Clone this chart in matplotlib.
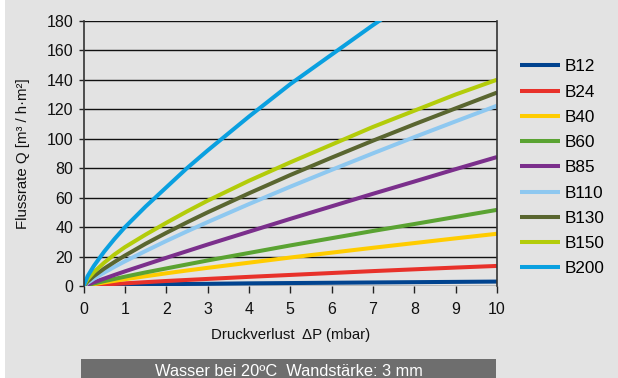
import matplotlib
matplotlib.use("Agg")
import matplotlib.pyplot as plt
from matplotlib.patches import Rectangle

plt.rcParams['font.family'] = ['Liberation Sans', 'DejaVu Sans']

# Druckverlust in mbar
dp = [0, 0.1, 0.25, 0.5, 0.75, 1, 1.5, 2, 2.5, 3, 4, 5, 6, 7, 8, 9, 10]

# Flussrate in m3/(h*m2) je Filtertyp
q_b12 = [0, 0.3, 0.5, 0.7, 0.9, 1.0, 1.2, 1.4, 1.6, 1.7, 2.0, 2.2, 2.4, 2.6, 2.8, 3.0, 3.2]
q_b24 = [0, 0.3, 0.6, 1.1, 1.6, 2.0, 2.8, 3.6, 4.3, 5.0, 6.4, 7.7, 9.0, 10.3, 11.5, 12.7, 13.8]
q_b40 = [0, 0.6, 1.4, 2.6, 3.7, 4.8, 6.8, 8.8, 10.7, 12.5, 16.0, 19.5, 22.8, 26.1, 29.3, 32.5, 35.6]
q_b60 = [0, 0.8, 1.9, 3.5, 5.0, 6.5, 9.4, 12.1, 14.8, 17.5, 22.6, 27.7, 32.6, 37.5, 42.2, 47.0, 51.8]
q_b85 = [0, 1.2, 2.7, 5.2, 7.7, 10.1, 14.7, 19.3, 23.8, 28.3, 37.0, 45.7, 54.2, 62.7, 71.0, 79.4, 87.6]
q_b110 = [0, 2.3, 5.1, 9.3, 13.2, 16.9, 23.9, 30.7, 37.2, 43.5, 55.7, 67.5, 78.9, 90.1, 101.1, 111.8, 122.4]
q_b130 = [0, 3.3, 6.9, 12.0, 16.5, 20.8, 28.8, 36.2, 43.3, 50.1, 63.0, 75.4, 87.2, 98.7, 109.8, 120.6, 131.3]
q_b150 = [0, 4.8, 9.6, 16.0, 21.6, 26.5, 35.0, 43.0, 50.7, 58.0, 71.5, 84.0, 96.0, 108.0, 119.0, 130.0, 140.0]
q_b200 = [0, 6.9, 13.8, 23.5, 32.1, 40.0, 54.0, 67.0, 80.0, 92.0, 115.0, 137.0, 157.0, 177.0, 196.0, 214.0, 232.0]

names = ['B12', 'B24', 'B40', 'B60', 'B85', 'B110', 'B130', 'B150', 'B200']
series = [q_b12, q_b24, q_b40, q_b60, q_b85, q_b110, q_b130, q_b150, q_b200]
colors = ['#00438f', '#e8312a', '#ffcc00', '#5aa332', '#7b2f8c',
          '#8ec8f0', '#5a6630', '#b3cc0a', '#0aa0e0']

bg = '#e3e3e3'
W, H = 618, 378
fig = plt.figure(figsize=(W / 100, H / 100), dpi=100, facecolor=bg)
ax = fig.add_axes([83.5 / W, 1 - 286.3 / H, (497 - 83.5) / W, (286.3 - 20.7) / H])
ax.set_facecolor(bg)

for name, q, c in zip(names, series, colors):
    ax.plot(dp, q, color=c, lw=2.9, label=name, solid_capstyle='butt')

ax.set_xlim(0, 10)
ax.set_ylim(0, 180)
ax.set_xticks(range(0, 11))
ax.set_yticks(range(0, 181, 20))
ax.set_axisbelow(True)
ax.grid(axis='y', color='#111111', lw=1.0)
for s in ['left', 'right']:
    ax.spines[s].set_color('#333333')
    ax.spines[s].set_linewidth(1.2)
for s in ['top', 'bottom']:
    ax.spines[s].set_visible(False)
ax.tick_params(axis='x', direction='out', length=5, width=1, pad=6, labelsize=11.5, colors='#222222')
ax.tick_params(axis='y', direction='out', length=3.6, width=1, pad=3.8, labelsize=11.5, colors='#222222')
ax.tick_params(labelcolor='#111111')

ax.set_xlabel('Druckverlust  ΔP (mbar)', fontsize=10.8, labelpad=8, color='#111111')
ax.set_ylabel('Flussrate Q [m³ / h·m²]', fontsize=10.8, labelpad=12, color='#111111')

ax.legend(loc='upper left', bbox_to_anchor=(1.04, 0.88), frameon=False,
          fontsize=12.3, handlelength=2.3, handletextpad=0.3, labelspacing=0.6,
          borderaxespad=0)

# Streifen links und Fussleiste
fig.patches.append(Rectangle((0, 0), 5 / W, 1, transform=fig.transFigure,
                             facecolor='white', edgecolor='none'))
fig.patches.append(Rectangle((81 / W, 0), (496 - 81) / W, (H - 359) / H,
                             transform=fig.transFigure, facecolor='#6e6e6e', edgecolor='none'))
fig.text(289 / W, 1 - 376.5 / H, 'Wasser bei 20ºC  Wandstärke: 3 mm', color='white',
         fontsize=11.8, ha='center', va='baseline')

fig.savefig('out.png', dpi=100, facecolor=bg)
